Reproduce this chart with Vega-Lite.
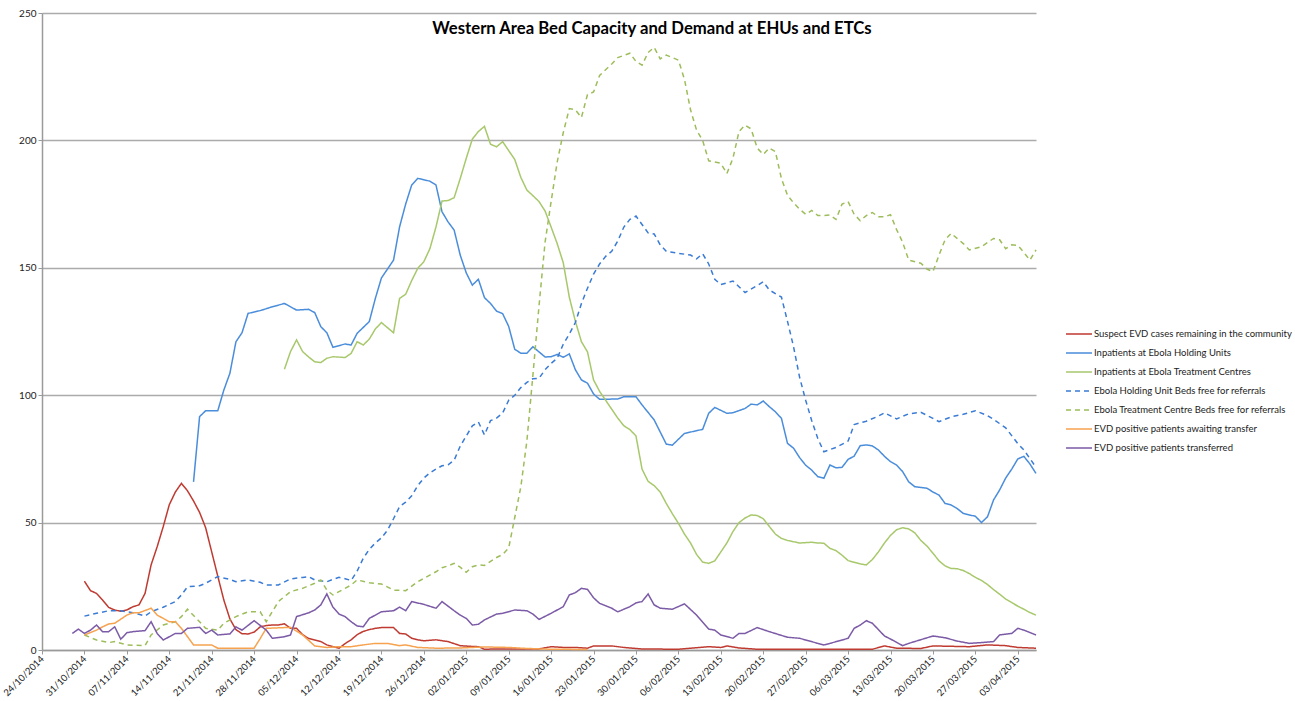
{
  "$schema": "https://vega.github.io/schema/vega-lite/v6.json",
  "width": 994,
  "height": 637,
  "autosize": {"type": "none"},
  "padding": {"left": 42, "top": 13, "right": 259, "bottom": 51},
  "background": "white",
  "title": {"text": "Western Area Bed Capacity and Demand at EHUs and ETCs", "font": "Lato", "fontSize": 16.7, "fontWeight": "bold", "color": "#000000", "anchor": "middle", "frame": "group", "baseline": "alphabetic", "offset": -43, "dx": 113},
  "config": {"view": {"stroke": null}, "font": "Lato"},
  "data": {"values": [
    {"s":"A","t":"2014-10-31","v":27},{"s":"A","t":"2014-11-01","v":23.3},{"s":"A","t":"2014-11-02","v":22.2},{"s":"A","t":"2014-11-03","v":19.6},{"s":"A","t":"2014-11-04","v":16.7},{"s":"A","t":"2014-11-05","v":15.7},{"s":"A","t":"2014-11-06","v":15.2},{"s":"A","t":"2014-11-07","v":15.7},{"s":"A","t":"2014-11-08","v":17},{"s":"A","t":"2014-11-09","v":17.7},{"s":"A","t":"2014-11-10","v":22.2},{"s":"A","t":"2014-11-11","v":33.4},{"s":"A","t":"2014-11-12","v":40.5},{"s":"A","t":"2014-11-13","v":48.4},{"s":"A","t":"2014-11-14","v":57},{"s":"A","t":"2014-11-15","v":62},{"s":"A","t":"2014-11-16","v":65.4},{"s":"A","t":"2014-11-17","v":62.5},{"s":"A","t":"2014-11-18","v":58.5},{"s":"A","t":"2014-11-19","v":54},{"s":"A","t":"2014-11-20","v":48},{"s":"A","t":"2014-11-21","v":38.5},{"s":"A","t":"2014-11-22","v":29},{"s":"A","t":"2014-11-23","v":19.6},{"s":"A","t":"2014-11-24","v":12.2},{"s":"A","t":"2014-11-25","v":8},{"s":"A","t":"2014-11-26","v":6.4},{"s":"A","t":"2014-11-27","v":6.3},{"s":"A","t":"2014-11-28","v":7},{"s":"A","t":"2014-11-29","v":9.1},{"s":"A","t":"2014-11-30","v":9.6},{"s":"A","t":"2014-12-01","v":9.8},{"s":"A","t":"2014-12-02","v":9.8},{"s":"A","t":"2014-12-03","v":10.3},{"s":"A","t":"2014-12-04","v":8.5},{"s":"A","t":"2014-12-05","v":8.5},{"s":"A","t":"2014-12-06","v":6},{"s":"A","t":"2014-12-07","v":4.5},{"s":"A","t":"2014-12-08","v":3.9},{"s":"A","t":"2014-12-09","v":3.3},{"s":"A","t":"2014-12-10","v":2},{"s":"A","t":"2014-12-11","v":1.3},{"s":"A","t":"2014-12-12","v":0.7},{"s":"A","t":"2014-12-13","v":2.5},{"s":"A","t":"2014-12-14","v":4},{"s":"A","t":"2014-12-15","v":6},{"s":"A","t":"2014-12-16","v":7.3},{"s":"A","t":"2014-12-17","v":8},{"s":"A","t":"2014-12-18","v":8.5},{"s":"A","t":"2014-12-19","v":8.8},{"s":"A","t":"2014-12-21","v":8.8},{"s":"A","t":"2014-12-22","v":6.5},{"s":"A","t":"2014-12-23","v":6.3},{"s":"A","t":"2014-12-24","v":4.6},{"s":"A","t":"2014-12-25","v":4},{"s":"A","t":"2014-12-26","v":3.6},{"s":"A","t":"2014-12-28","v":4},{"s":"A","t":"2014-12-30","v":3.3},{"s":"A","t":"2014-12-31","v":2.5},{"s":"A","t":"2015-01-01","v":1.7},{"s":"A","t":"2015-01-03","v":1.4},{"s":"A","t":"2015-01-04","v":1.3},{"s":"A","t":"2015-01-05","v":0.3},{"s":"A","t":"2015-01-07","v":0.4},{"s":"A","t":"2015-01-14","v":0.4},{"s":"A","t":"2015-01-16","v":1.3},{"s":"A","t":"2015-01-18","v":1},{"s":"A","t":"2015-01-20","v":1},{"s":"A","t":"2015-01-22","v":0.7},{"s":"A","t":"2015-01-23","v":1.6},{"s":"A","t":"2015-01-26","v":1.6},{"s":"A","t":"2015-01-28","v":1},{"s":"A","t":"2015-01-31","v":0.4},{"s":"A","t":"2015-02-06","v":0.3},{"s":"A","t":"2015-02-11","v":1.3},{"s":"A","t":"2015-02-13","v":1},{"s":"A","t":"2015-02-14","v":1.6},{"s":"A","t":"2015-02-16","v":0.8},{"s":"A","t":"2015-02-19","v":0.3},{"s":"A","t":"2015-03-10","v":0.3},{"s":"A","t":"2015-03-12","v":1.6},{"s":"A","t":"2015-03-14","v":0.7},{"s":"A","t":"2015-03-18","v":0.6},{"s":"A","t":"2015-03-20","v":1.6},{"s":"A","t":"2015-03-26","v":1.3},{"s":"A","t":"2015-03-29","v":2},{"s":"A","t":"2015-04-01","v":1.7},{"s":"A","t":"2015-04-03","v":1},{"s":"A","t":"2015-04-06","v":0.7},

    {"s":"B","t":"2014-11-18","v":66},{"s":"B","t":"2014-11-19","v":91.6},{"s":"B","t":"2014-11-20","v":93.9},{"s":"B","t":"2014-11-21","v":93.9},{"s":"B","t":"2014-11-22","v":93.9},{"s":"B","t":"2014-11-23","v":102},{"s":"B","t":"2014-11-24","v":108.6},{"s":"B","t":"2014-11-25","v":121},{"s":"B","t":"2014-11-26","v":124.5},{"s":"B","t":"2014-11-27","v":132.1},{"s":"B","t":"2014-11-29","v":133.2},{"s":"B","t":"2014-12-01","v":134.7},{"s":"B","t":"2014-12-03","v":136},{"s":"B","t":"2014-12-05","v":133.4},{"s":"B","t":"2014-12-07","v":133.7},{"s":"B","t":"2014-12-08","v":132.4},{"s":"B","t":"2014-12-09","v":126.9},{"s":"B","t":"2014-12-10","v":124.5},{"s":"B","t":"2014-12-11","v":118.8},{"s":"B","t":"2014-12-13","v":120.1},{"s":"B","t":"2014-12-14","v":119.7},{"s":"B","t":"2014-12-15","v":124.3},{"s":"B","t":"2014-12-17","v":128.9},{"s":"B","t":"2014-12-18","v":138},{"s":"B","t":"2014-12-19","v":146},{"s":"B","t":"2014-12-21","v":153},{"s":"B","t":"2014-12-22","v":166.1},{"s":"B","t":"2014-12-23","v":175},{"s":"B","t":"2014-12-24","v":182.5},{"s":"B","t":"2014-12-25","v":185.1},{"s":"B","t":"2014-12-27","v":184},{"s":"B","t":"2014-12-28","v":182.5},{"s":"B","t":"2014-12-29","v":172},{"s":"B","t":"2014-12-30","v":168},{"s":"B","t":"2014-12-31","v":164.8},{"s":"B","t":"2015-01-01","v":155},{"s":"B","t":"2015-01-02","v":148},{"s":"B","t":"2015-01-03","v":143.2},{"s":"B","t":"2015-01-04","v":145.5},{"s":"B","t":"2015-01-05","v":138.3},{"s":"B","t":"2015-01-06","v":136},{"s":"B","t":"2015-01-07","v":133},{"s":"B","t":"2015-01-08","v":132},{"s":"B","t":"2015-01-09","v":127},{"s":"B","t":"2015-01-10","v":118},{"s":"B","t":"2015-01-11","v":116.5},{"s":"B","t":"2015-01-12","v":116.5},{"s":"B","t":"2015-01-13","v":119},{"s":"B","t":"2015-01-14","v":117},{"s":"B","t":"2015-01-15","v":115},{"s":"B","t":"2015-01-16","v":115.1},{"s":"B","t":"2015-01-17","v":116},{"s":"B","t":"2015-01-18","v":114.9},{"s":"B","t":"2015-01-19","v":116.2},{"s":"B","t":"2015-01-20","v":110},{"s":"B","t":"2015-01-21","v":106},{"s":"B","t":"2015-01-22","v":104.7},{"s":"B","t":"2015-01-23","v":100.5},{"s":"B","t":"2015-01-24","v":98.4},{"s":"B","t":"2015-01-27","v":98.5},{"s":"B","t":"2015-01-28","v":99.4},{"s":"B","t":"2015-01-30","v":99.4},{"s":"B","t":"2015-01-31","v":96.2},{"s":"B","t":"2015-02-02","v":90.3},{"s":"B","t":"2015-02-04","v":80.8},{"s":"B","t":"2015-02-05","v":80.4},{"s":"B","t":"2015-02-07","v":85},{"s":"B","t":"2015-02-10","v":86.6},{"s":"B","t":"2015-02-11","v":92.9},{"s":"B","t":"2015-02-12","v":95.2},{"s":"B","t":"2015-02-14","v":92.9},{"s":"B","t":"2015-02-15","v":93.1},{"s":"B","t":"2015-02-17","v":94.8},{"s":"B","t":"2015-02-18","v":96.5},{"s":"B","t":"2015-02-19","v":96.2},{"s":"B","t":"2015-02-20","v":97.7},{"s":"B","t":"2015-02-21","v":95.5},{"s":"B","t":"2015-02-22","v":93.5},{"s":"B","t":"2015-02-23","v":90.9},{"s":"B","t":"2015-02-24","v":81.1},{"s":"B","t":"2015-02-25","v":79.2},{"s":"B","t":"2015-02-26","v":75.5},{"s":"B","t":"2015-02-27","v":72.5},{"s":"B","t":"2015-02-28","v":70.6},{"s":"B","t":"2015-03-01","v":68},{"s":"B","t":"2015-03-02","v":67.4},{"s":"B","t":"2015-03-03","v":72.6},{"s":"B","t":"2015-03-04","v":71.5},{"s":"B","t":"2015-03-05","v":71.7},{"s":"B","t":"2015-03-06","v":74.8},{"s":"B","t":"2015-03-07","v":76.1},{"s":"B","t":"2015-03-08","v":80.2},{"s":"B","t":"2015-03-09","v":80.5},{"s":"B","t":"2015-03-10","v":80.1},{"s":"B","t":"2015-03-11","v":78.5},{"s":"B","t":"2015-03-12","v":76},{"s":"B","t":"2015-03-13","v":73.9},{"s":"B","t":"2015-03-14","v":72.6},{"s":"B","t":"2015-03-15","v":70},{"s":"B","t":"2015-03-16","v":66},{"s":"B","t":"2015-03-17","v":64.1},{"s":"B","t":"2015-03-18","v":63.8},{"s":"B","t":"2015-03-19","v":63.5},{"s":"B","t":"2015-03-20","v":62},{"s":"B","t":"2015-03-21","v":60.8},{"s":"B","t":"2015-03-22","v":57.5},{"s":"B","t":"2015-03-23","v":56.9},{"s":"B","t":"2015-03-24","v":55.5},{"s":"B","t":"2015-03-25","v":53.6},{"s":"B","t":"2015-03-26","v":53},{"s":"B","t":"2015-03-27","v":52.5},{"s":"B","t":"2015-03-28","v":50},{"s":"B","t":"2015-03-29","v":52.3},{"s":"B","t":"2015-03-30","v":58.9},{"s":"B","t":"2015-03-31","v":62.8},{"s":"B","t":"2015-04-01","v":67.5},{"s":"B","t":"2015-04-02","v":71},{"s":"B","t":"2015-04-03","v":75},{"s":"B","t":"2015-04-04","v":76},{"s":"B","t":"2015-04-05","v":73},{"s":"B","t":"2015-04-06","v":69.3},

    {"s":"C","t":"2014-12-03","v":110.2},{"s":"C","t":"2014-12-04","v":117.1},{"s":"C","t":"2014-12-05","v":121.7},{"s":"C","t":"2014-12-06","v":117.1},{"s":"C","t":"2014-12-07","v":115},{"s":"C","t":"2014-12-08","v":113.1},{"s":"C","t":"2014-12-09","v":112.8},{"s":"C","t":"2014-12-10","v":114.5},{"s":"C","t":"2014-12-11","v":115.1},{"s":"C","t":"2014-12-13","v":114.8},{"s":"C","t":"2014-12-14","v":116.4},{"s":"C","t":"2014-12-15","v":121},{"s":"C","t":"2014-12-16","v":119.7},{"s":"C","t":"2014-12-17","v":122},{"s":"C","t":"2014-12-18","v":126},{"s":"C","t":"2014-12-19","v":128.5},{"s":"C","t":"2014-12-20","v":126.5},{"s":"C","t":"2014-12-21","v":124.5},{"s":"C","t":"2014-12-22","v":138},{"s":"C","t":"2014-12-23","v":139.6},{"s":"C","t":"2014-12-24","v":145},{"s":"C","t":"2014-12-25","v":149.8},{"s":"C","t":"2014-12-26","v":152.4},{"s":"C","t":"2014-12-27","v":157.5},{"s":"C","t":"2014-12-28","v":166},{"s":"C","t":"2014-12-29","v":176.2},{"s":"C","t":"2014-12-30","v":176.4},{"s":"C","t":"2014-12-31","v":177.5},{"s":"C","t":"2015-01-01","v":185},{"s":"C","t":"2015-01-02","v":193},{"s":"C","t":"2015-01-03","v":200.5},{"s":"C","t":"2015-01-04","v":203.5},{"s":"C","t":"2015-01-05","v":205.5},{"s":"C","t":"2015-01-06","v":198.5},{"s":"C","t":"2015-01-07","v":197.5},{"s":"C","t":"2015-01-08","v":199.5},{"s":"C","t":"2015-01-09","v":196},{"s":"C","t":"2015-01-10","v":192.5},{"s":"C","t":"2015-01-11","v":185.5},{"s":"C","t":"2015-01-12","v":180.5},{"s":"C","t":"2015-01-13","v":178.3},{"s":"C","t":"2015-01-14","v":176},{"s":"C","t":"2015-01-15","v":172.3},{"s":"C","t":"2015-01-16","v":166},{"s":"C","t":"2015-01-17","v":159.5},{"s":"C","t":"2015-01-18","v":152},{"s":"C","t":"2015-01-19","v":138.5},{"s":"C","t":"2015-01-20","v":129},{"s":"C","t":"2015-01-21","v":121},{"s":"C","t":"2015-01-22","v":117},{"s":"C","t":"2015-01-23","v":106},{"s":"C","t":"2015-01-24","v":101.5},{"s":"C","t":"2015-01-25","v":98},{"s":"C","t":"2015-01-26","v":94.5},{"s":"C","t":"2015-01-27","v":91},{"s":"C","t":"2015-01-28","v":88},{"s":"C","t":"2015-01-29","v":86.5},{"s":"C","t":"2015-01-30","v":84},{"s":"C","t":"2015-01-31","v":71},{"s":"C","t":"2015-02-01","v":66.2},{"s":"C","t":"2015-02-02","v":64.5},{"s":"C","t":"2015-02-03","v":62},{"s":"C","t":"2015-02-04","v":57.5},{"s":"C","t":"2015-02-05","v":53.5},{"s":"C","t":"2015-02-06","v":49.7},{"s":"C","t":"2015-02-07","v":45.5},{"s":"C","t":"2015-02-08","v":42},{"s":"C","t":"2015-02-09","v":37.5},{"s":"C","t":"2015-02-10","v":34.5},{"s":"C","t":"2015-02-11","v":34},{"s":"C","t":"2015-02-12","v":35},{"s":"C","t":"2015-02-13","v":38.5},{"s":"C","t":"2015-02-14","v":42},{"s":"C","t":"2015-02-15","v":46.5},{"s":"C","t":"2015-02-16","v":50},{"s":"C","t":"2015-02-17","v":51.8},{"s":"C","t":"2015-02-18","v":53},{"s":"C","t":"2015-02-19","v":52.8},{"s":"C","t":"2015-02-20","v":51.5},{"s":"C","t":"2015-02-21","v":48.5},{"s":"C","t":"2015-02-22","v":45.5},{"s":"C","t":"2015-02-23","v":43.8},{"s":"C","t":"2015-02-24","v":43},{"s":"C","t":"2015-02-26","v":42},{"s":"C","t":"2015-02-28","v":42.3},{"s":"C","t":"2015-03-01","v":42},{"s":"C","t":"2015-03-02","v":41.9},{"s":"C","t":"2015-03-03","v":39.9},{"s":"C","t":"2015-03-04","v":39},{"s":"C","t":"2015-03-05","v":37.2},{"s":"C","t":"2015-03-06","v":35.1},{"s":"C","t":"2015-03-07","v":34.4},{"s":"C","t":"2015-03-08","v":33.8},{"s":"C","t":"2015-03-09","v":33.4},{"s":"C","t":"2015-03-10","v":35.5},{"s":"C","t":"2015-03-11","v":38.5},{"s":"C","t":"2015-03-12","v":42},{"s":"C","t":"2015-03-13","v":45},{"s":"C","t":"2015-03-14","v":47.2},{"s":"C","t":"2015-03-15","v":48},{"s":"C","t":"2015-03-16","v":47.5},{"s":"C","t":"2015-03-17","v":46},{"s":"C","t":"2015-03-18","v":43},{"s":"C","t":"2015-03-19","v":40.8},{"s":"C","t":"2015-03-20","v":38},{"s":"C","t":"2015-03-21","v":35},{"s":"C","t":"2015-03-22","v":33},{"s":"C","t":"2015-03-23","v":32},{"s":"C","t":"2015-03-24","v":31.9},{"s":"C","t":"2015-03-25","v":31.2},{"s":"C","t":"2015-03-26","v":30},{"s":"C","t":"2015-03-27","v":28.5},{"s":"C","t":"2015-03-28","v":27.3},{"s":"C","t":"2015-03-29","v":25.7},{"s":"C","t":"2015-03-30","v":23.7},{"s":"C","t":"2015-03-31","v":21.9},{"s":"C","t":"2015-04-01","v":20},{"s":"C","t":"2015-04-02","v":18.6},{"s":"C","t":"2015-04-03","v":17.2},{"s":"C","t":"2015-04-04","v":16},{"s":"C","t":"2015-04-05","v":14.7},{"s":"C","t":"2015-04-06","v":13.7},

    {"s":"D","t":"2014-10-31","v":13.3},{"s":"D","t":"2014-11-02","v":14.4},{"s":"D","t":"2014-11-04","v":15.4},{"s":"D","t":"2014-11-06","v":15.4},{"s":"D","t":"2014-11-08","v":14.6},{"s":"D","t":"2014-11-09","v":14},{"s":"D","t":"2014-11-10","v":13.3},{"s":"D","t":"2014-11-11","v":15},{"s":"D","t":"2014-11-13","v":16.8},{"s":"D","t":"2014-11-15","v":19},{"s":"D","t":"2014-11-16","v":21.6},{"s":"D","t":"2014-11-17","v":24.8},{"s":"D","t":"2014-11-19","v":25.2},{"s":"D","t":"2014-11-20","v":26.2},{"s":"D","t":"2014-11-22","v":28.8},{"s":"D","t":"2014-11-24","v":27.7},{"s":"D","t":"2014-11-25","v":26.8},{"s":"D","t":"2014-11-27","v":27.5},{"s":"D","t":"2014-11-29","v":26.6},{"s":"D","t":"2014-11-30","v":25.5},{"s":"D","t":"2014-12-02","v":25.5},{"s":"D","t":"2014-12-04","v":27.9},{"s":"D","t":"2014-12-06","v":28.5},{"s":"D","t":"2014-12-07","v":28.8},{"s":"D","t":"2014-12-08","v":27.5},{"s":"D","t":"2014-12-10","v":26.8},{"s":"D","t":"2014-12-11","v":27.7},{"s":"D","t":"2014-12-12","v":28.5},{"s":"D","t":"2014-12-13","v":28},{"s":"D","t":"2014-12-14","v":27.3},{"s":"D","t":"2014-12-15","v":31},{"s":"D","t":"2014-12-16","v":36},{"s":"D","t":"2014-12-17","v":39.5},{"s":"D","t":"2014-12-18","v":42},{"s":"D","t":"2014-12-19","v":44},{"s":"D","t":"2014-12-20","v":47},{"s":"D","t":"2014-12-21","v":51.5},{"s":"D","t":"2014-12-22","v":56.3},{"s":"D","t":"2014-12-23","v":58},{"s":"D","t":"2014-12-24","v":60.5},{"s":"D","t":"2014-12-25","v":64.5},{"s":"D","t":"2014-12-26","v":67.5},{"s":"D","t":"2014-12-27","v":69.5},{"s":"D","t":"2014-12-28","v":71},{"s":"D","t":"2014-12-29","v":72.3},{"s":"D","t":"2014-12-30","v":72.7},{"s":"D","t":"2014-12-31","v":74.5},{"s":"D","t":"2015-01-01","v":80},{"s":"D","t":"2015-01-02","v":84},{"s":"D","t":"2015-01-03","v":88},{"s":"D","t":"2015-01-04","v":89.5},{"s":"D","t":"2015-01-05","v":84.4},{"s":"D","t":"2015-01-06","v":90},{"s":"D","t":"2015-01-07","v":91},{"s":"D","t":"2015-01-08","v":93},{"s":"D","t":"2015-01-09","v":98},{"s":"D","t":"2015-01-10","v":100},{"s":"D","t":"2015-01-11","v":103},{"s":"D","t":"2015-01-12","v":105},{"s":"D","t":"2015-01-13","v":106.5},{"s":"D","t":"2015-01-14","v":106.6},{"s":"D","t":"2015-01-15","v":110},{"s":"D","t":"2015-01-16","v":112.5},{"s":"D","t":"2015-01-17","v":114.5},{"s":"D","t":"2015-01-18","v":120},{"s":"D","t":"2015-01-19","v":124},{"s":"D","t":"2015-01-20","v":128.5},{"s":"D","t":"2015-01-21","v":136},{"s":"D","t":"2015-01-22","v":142},{"s":"D","t":"2015-01-23","v":147.5},{"s":"D","t":"2015-01-24","v":151.5},{"s":"D","t":"2015-01-25","v":154.5},{"s":"D","t":"2015-01-26","v":156.5},{"s":"D","t":"2015-01-27","v":160.5},{"s":"D","t":"2015-01-28","v":166},{"s":"D","t":"2015-01-29","v":169},{"s":"D","t":"2015-01-30","v":170.3},{"s":"D","t":"2015-01-31","v":167},{"s":"D","t":"2015-02-01","v":163.7},{"s":"D","t":"2015-02-02","v":163.3},{"s":"D","t":"2015-02-03","v":159},{"s":"D","t":"2015-02-04","v":156.5},{"s":"D","t":"2015-02-06","v":155.7},{"s":"D","t":"2015-02-08","v":155},{"s":"D","t":"2015-02-09","v":153.5},{"s":"D","t":"2015-02-10","v":155.5},{"s":"D","t":"2015-02-11","v":151.5},{"s":"D","t":"2015-02-12","v":145.5},{"s":"D","t":"2015-02-13","v":143.4},{"s":"D","t":"2015-02-15","v":144.8},{"s":"D","t":"2015-02-17","v":140.3},{"s":"D","t":"2015-02-19","v":143},{"s":"D","t":"2015-02-20","v":144.5},{"s":"D","t":"2015-02-21","v":141.3},{"s":"D","t":"2015-02-23","v":138.5},{"s":"D","t":"2015-02-24","v":129},{"s":"D","t":"2015-02-25","v":119},{"s":"D","t":"2015-02-26","v":107},{"s":"D","t":"2015-02-27","v":98},{"s":"D","t":"2015-02-28","v":90},{"s":"D","t":"2015-03-01","v":83},{"s":"D","t":"2015-03-02","v":77.8},{"s":"D","t":"2015-03-04","v":79.5},{"s":"D","t":"2015-03-06","v":82},{"s":"D","t":"2015-03-07","v":88.5},{"s":"D","t":"2015-03-09","v":89.8},{"s":"D","t":"2015-03-11","v":91.8},{"s":"D","t":"2015-03-12","v":93.1},{"s":"D","t":"2015-03-14","v":90.7},{"s":"D","t":"2015-03-16","v":92.7},{"s":"D","t":"2015-03-18","v":93.3},{"s":"D","t":"2015-03-20","v":90.9},{"s":"D","t":"2015-03-21","v":89.6},{"s":"D","t":"2015-03-23","v":91.5},{"s":"D","t":"2015-03-25","v":92.5},{"s":"D","t":"2015-03-27","v":93.9},{"s":"D","t":"2015-03-29","v":92},{"s":"D","t":"2015-03-30","v":90.5},{"s":"D","t":"2015-04-01","v":87.2},{"s":"D","t":"2015-04-03","v":81},{"s":"D","t":"2015-04-04","v":78.5},{"s":"D","t":"2015-04-06","v":71.7},

    {"s":"E","t":"2014-10-31","v":5.9},{"s":"E","t":"2014-11-02","v":3.9},{"s":"E","t":"2014-11-04","v":2.9},{"s":"E","t":"2014-11-05","v":3.3},{"s":"E","t":"2014-11-07","v":2},{"s":"E","t":"2014-11-10","v":1.7},{"s":"E","t":"2014-11-11","v":5.9},{"s":"E","t":"2014-11-13","v":9.8},{"s":"E","t":"2014-11-15","v":11.1},{"s":"E","t":"2014-11-16","v":13.1},{"s":"E","t":"2014-11-17","v":16},{"s":"E","t":"2014-11-19","v":11.1},{"s":"E","t":"2014-11-20","v":8.5},{"s":"E","t":"2014-11-22","v":7.8},{"s":"E","t":"2014-11-23","v":10.5},{"s":"E","t":"2014-11-25","v":13.1},{"s":"E","t":"2014-11-27","v":15},{"s":"E","t":"2014-11-29","v":15},{"s":"E","t":"2014-11-30","v":11.1},{"s":"E","t":"2014-12-02","v":19},{"s":"E","t":"2014-12-04","v":22.9},{"s":"E","t":"2014-12-06","v":24.2},{"s":"E","t":"2014-12-08","v":26.2},{"s":"E","t":"2014-12-09","v":27.5},{"s":"E","t":"2014-12-10","v":23.5},{"s":"E","t":"2014-12-11","v":21.6},{"s":"E","t":"2014-12-13","v":24.2},{"s":"E","t":"2014-12-14","v":25.5},{"s":"E","t":"2014-12-15","v":27.5},{"s":"E","t":"2014-12-17","v":26.4},{"s":"E","t":"2014-12-19","v":25.9},{"s":"E","t":"2014-12-21","v":23.5},{"s":"E","t":"2014-12-23","v":23.3},{"s":"E","t":"2014-12-25","v":26.8},{"s":"E","t":"2014-12-26","v":28.1},{"s":"E","t":"2014-12-28","v":30.7},{"s":"E","t":"2014-12-29","v":32.3},{"s":"E","t":"2014-12-30","v":33},{"s":"E","t":"2014-12-31","v":34},{"s":"E","t":"2015-01-01","v":32.5},{"s":"E","t":"2015-01-02","v":30.5},{"s":"E","t":"2015-01-03","v":32.7},{"s":"E","t":"2015-01-04","v":33.4},{"s":"E","t":"2015-01-05","v":33.2},{"s":"E","t":"2015-01-07","v":36.3},{"s":"E","t":"2015-01-08","v":37.5},{"s":"E","t":"2015-01-09","v":40},{"s":"E","t":"2015-01-10","v":52},{"s":"E","t":"2015-01-11","v":64},{"s":"E","t":"2015-01-12","v":82},{"s":"E","t":"2015-01-13","v":108},{"s":"E","t":"2015-01-14","v":135},{"s":"E","t":"2015-01-15","v":160},{"s":"E","t":"2015-01-16","v":176},{"s":"E","t":"2015-01-17","v":191.5},{"s":"E","t":"2015-01-18","v":203},{"s":"E","t":"2015-01-19","v":212.5},{"s":"E","t":"2015-01-20","v":212},{"s":"E","t":"2015-01-21","v":209},{"s":"E","t":"2015-01-22","v":218},{"s":"E","t":"2015-01-23","v":219},{"s":"E","t":"2015-01-24","v":225.5},{"s":"E","t":"2015-01-26","v":230},{"s":"E","t":"2015-01-27","v":232.5},{"s":"E","t":"2015-01-29","v":234.2},{"s":"E","t":"2015-01-30","v":231},{"s":"E","t":"2015-01-31","v":229.5},{"s":"E","t":"2015-02-01","v":234.5},{"s":"E","t":"2015-02-02","v":236.5},{"s":"E","t":"2015-02-03","v":232},{"s":"E","t":"2015-02-04","v":233.5},{"s":"E","t":"2015-02-06","v":231.5},{"s":"E","t":"2015-02-07","v":224},{"s":"E","t":"2015-02-08","v":212},{"s":"E","t":"2015-02-09","v":204},{"s":"E","t":"2015-02-10","v":200},{"s":"E","t":"2015-02-11","v":192},{"s":"E","t":"2015-02-12","v":191.5},{"s":"E","t":"2015-02-13","v":191},{"s":"E","t":"2015-02-14","v":187},{"s":"E","t":"2015-02-15","v":193},{"s":"E","t":"2015-02-16","v":203.5},{"s":"E","t":"2015-02-17","v":206},{"s":"E","t":"2015-02-18","v":204.5},{"s":"E","t":"2015-02-19","v":197},{"s":"E","t":"2015-02-20","v":194.5},{"s":"E","t":"2015-02-21","v":197},{"s":"E","t":"2015-02-22","v":195.6},{"s":"E","t":"2015-02-23","v":185},{"s":"E","t":"2015-02-24","v":178.5},{"s":"E","t":"2015-02-25","v":175.5},{"s":"E","t":"2015-02-26","v":173},{"s":"E","t":"2015-02-27","v":171},{"s":"E","t":"2015-02-28","v":172.5},{"s":"E","t":"2015-03-01","v":170.5},{"s":"E","t":"2015-03-02","v":170.5},{"s":"E","t":"2015-03-03","v":170.7},{"s":"E","t":"2015-03-04","v":169},{"s":"E","t":"2015-03-05","v":175},{"s":"E","t":"2015-03-06","v":176},{"s":"E","t":"2015-03-07","v":171},{"s":"E","t":"2015-03-08","v":168.5},{"s":"E","t":"2015-03-09","v":170.5},{"s":"E","t":"2015-03-10","v":171.7},{"s":"E","t":"2015-03-11","v":170},{"s":"E","t":"2015-03-12","v":170},{"s":"E","t":"2015-03-13","v":170.8},{"s":"E","t":"2015-03-14","v":165},{"s":"E","t":"2015-03-15","v":160},{"s":"E","t":"2015-03-16","v":153},{"s":"E","t":"2015-03-18","v":151.8},{"s":"E","t":"2015-03-19","v":149.5},{"s":"E","t":"2015-03-20","v":148.5},{"s":"E","t":"2015-03-21","v":155},{"s":"E","t":"2015-03-22","v":161},{"s":"E","t":"2015-03-23","v":163.5},{"s":"E","t":"2015-03-25","v":159.5},{"s":"E","t":"2015-03-26","v":157},{"s":"E","t":"2015-03-28","v":158.3},{"s":"E","t":"2015-03-30","v":161.5},{"s":"E","t":"2015-03-31","v":161},{"s":"E","t":"2015-04-01","v":157.5},{"s":"E","t":"2015-04-02","v":159},{"s":"E","t":"2015-04-03","v":158.8},{"s":"E","t":"2015-04-04","v":156},{"s":"E","t":"2015-04-05","v":153},{"s":"E","t":"2015-04-06","v":157},

    {"s":"F","t":"2014-10-31","v":5.9},{"s":"F","t":"2014-11-02","v":7.8},{"s":"F","t":"2014-11-03","v":9.1},{"s":"F","t":"2014-11-04","v":10.2},{"s":"F","t":"2014-11-05","v":10.5},{"s":"F","t":"2014-11-07","v":13.7},{"s":"F","t":"2014-11-08","v":14.6},{"s":"F","t":"2014-11-09","v":14.6},{"s":"F","t":"2014-11-11","v":16.4},{"s":"F","t":"2014-11-12","v":13.7},{"s":"F","t":"2014-11-14","v":11.1},{"s":"F","t":"2014-11-15","v":11.1},{"s":"F","t":"2014-11-16","v":8.5},{"s":"F","t":"2014-11-18","v":2},{"s":"F","t":"2014-11-21","v":2},{"s":"F","t":"2014-11-22","v":0.7},{"s":"F","t":"2014-11-28","v":0.7},{"s":"F","t":"2014-11-29","v":4.5},{"s":"F","t":"2014-11-30","v":8.5},{"s":"F","t":"2014-12-04","v":8.9},{"s":"F","t":"2014-12-06","v":5.9},{"s":"F","t":"2014-12-08","v":1.6},{"s":"F","t":"2014-12-10","v":1},{"s":"F","t":"2014-12-12","v":1.3},{"s":"F","t":"2014-12-14","v":1.3},{"s":"F","t":"2014-12-16","v":2},{"s":"F","t":"2014-12-18","v":2.6},{"s":"F","t":"2014-12-20","v":2.6},{"s":"F","t":"2014-12-22","v":1.7},{"s":"F","t":"2014-12-23","v":2},{"s":"F","t":"2014-12-25","v":1},{"s":"F","t":"2014-12-28","v":0.7},{"s":"F","t":"2015-01-01","v":0.8},{"s":"F","t":"2015-01-05","v":1.2},{"s":"F","t":"2015-01-09","v":1},{"s":"F","t":"2015-01-12","v":0.6},{"s":"F","t":"2015-01-16","v":0.3},{"s":"F","t":"2015-01-22","v":0.2},

    {"s":"G","t":"2014-10-29","v":6.5},{"s":"G","t":"2014-10-30","v":8.2},{"s":"G","t":"2014-10-31","v":6.5},{"s":"G","t":"2014-11-01","v":7.8},{"s":"G","t":"2014-11-02","v":9.8},{"s":"G","t":"2014-11-03","v":7.2},{"s":"G","t":"2014-11-04","v":7.2},{"s":"G","t":"2014-11-05","v":9.1},{"s":"G","t":"2014-11-06","v":4.2},{"s":"G","t":"2014-11-07","v":6.8},{"s":"G","t":"2014-11-08","v":7.2},{"s":"G","t":"2014-11-10","v":7.6},{"s":"G","t":"2014-11-11","v":11.1},{"s":"G","t":"2014-11-12","v":6.5},{"s":"G","t":"2014-11-13","v":3.9},{"s":"G","t":"2014-11-15","v":6.5},{"s":"G","t":"2014-11-16","v":6.5},{"s":"G","t":"2014-11-17","v":8.5},{"s":"G","t":"2014-11-19","v":8.9},{"s":"G","t":"2014-11-20","v":6.5},{"s":"G","t":"2014-11-21","v":7.8},{"s":"G","t":"2014-11-22","v":5.9},{"s":"G","t":"2014-11-24","v":6.3},{"s":"G","t":"2014-11-25","v":9.1},{"s":"G","t":"2014-11-26","v":7.8},{"s":"G","t":"2014-11-28","v":11.5},{"s":"G","t":"2014-11-30","v":7.8},{"s":"G","t":"2014-12-01","v":4.6},{"s":"G","t":"2014-12-03","v":5.2},{"s":"G","t":"2014-12-04","v":5.9},{"s":"G","t":"2014-12-05","v":13.1},{"s":"G","t":"2014-12-07","v":14.6},{"s":"G","t":"2014-12-08","v":15.7},{"s":"G","t":"2014-12-09","v":17.7},{"s":"G","t":"2014-12-10","v":22},{"s":"G","t":"2014-12-11","v":16.8},{"s":"G","t":"2014-12-12","v":14.1},{"s":"G","t":"2014-12-13","v":13.1},{"s":"G","t":"2014-12-14","v":11.1},{"s":"G","t":"2014-12-15","v":9.4},{"s":"G","t":"2014-12-16","v":9.1},{"s":"G","t":"2014-12-17","v":12.4},{"s":"G","t":"2014-12-19","v":15},{"s":"G","t":"2014-12-21","v":15.4},{"s":"G","t":"2014-12-22","v":16.8},{"s":"G","t":"2014-12-23","v":15.4},{"s":"G","t":"2014-12-24","v":19},{"s":"G","t":"2014-12-26","v":17.9},{"s":"G","t":"2014-12-28","v":16.4},{"s":"G","t":"2014-12-29","v":19},{"s":"G","t":"2014-12-31","v":15.4},{"s":"G","t":"2015-01-01","v":13.7},{"s":"G","t":"2015-01-02","v":12.4},{"s":"G","t":"2015-01-03","v":9.8},{"s":"G","t":"2015-01-04","v":10.1},{"s":"G","t":"2015-01-05","v":11.8},{"s":"G","t":"2015-01-07","v":14.1},{"s":"G","t":"2015-01-08","v":14.4},{"s":"G","t":"2015-01-10","v":15.7},{"s":"G","t":"2015-01-12","v":15.4},{"s":"G","t":"2015-01-13","v":14.1},{"s":"G","t":"2015-01-14","v":12},{"s":"G","t":"2015-01-16","v":14.4},{"s":"G","t":"2015-01-18","v":17},{"s":"G","t":"2015-01-19","v":21.6},{"s":"G","t":"2015-01-20","v":22.5},{"s":"G","t":"2015-01-21","v":24.2},{"s":"G","t":"2015-01-22","v":23.8},{"s":"G","t":"2015-01-23","v":20.5},{"s":"G","t":"2015-01-24","v":18.3},{"s":"G","t":"2015-01-26","v":16.4},{"s":"G","t":"2015-01-27","v":15},{"s":"G","t":"2015-01-29","v":17},{"s":"G","t":"2015-01-30","v":18.5},{"s":"G","t":"2015-01-31","v":19},{"s":"G","t":"2015-02-01","v":22},{"s":"G","t":"2015-02-02","v":17.7},{"s":"G","t":"2015-02-03","v":16.4},{"s":"G","t":"2015-02-05","v":16},{"s":"G","t":"2015-02-07","v":18.1},{"s":"G","t":"2015-02-09","v":13.7},{"s":"G","t":"2015-02-11","v":8.2},{"s":"G","t":"2015-02-12","v":7.8},{"s":"G","t":"2015-02-13","v":5.9},{"s":"G","t":"2015-02-15","v":4.6},{"s":"G","t":"2015-02-16","v":6.5},{"s":"G","t":"2015-02-17","v":6.5},{"s":"G","t":"2015-02-19","v":8.8},{"s":"G","t":"2015-02-21","v":7.2},{"s":"G","t":"2015-02-24","v":5},{"s":"G","t":"2015-02-26","v":4.6},{"s":"G","t":"2015-03-01","v":2.6},{"s":"G","t":"2015-03-02","v":2},{"s":"G","t":"2015-03-03","v":2.6},{"s":"G","t":"2015-03-05","v":3.9},{"s":"G","t":"2015-03-06","v":4.6},{"s":"G","t":"2015-03-07","v":8.5},{"s":"G","t":"2015-03-08","v":9.8},{"s":"G","t":"2015-03-09","v":11.5},{"s":"G","t":"2015-03-10","v":10.5},{"s":"G","t":"2015-03-12","v":5.5},{"s":"G","t":"2015-03-13","v":4.3},{"s":"G","t":"2015-03-15","v":1.7},{"s":"G","t":"2015-03-16","v":2.6},{"s":"G","t":"2015-03-20","v":5.5},{"s":"G","t":"2015-03-22","v":4.8},{"s":"G","t":"2015-03-24","v":3.5},{"s":"G","t":"2015-03-26","v":2.6},{"s":"G","t":"2015-03-28","v":2.9},{"s":"G","t":"2015-03-30","v":3.3},{"s":"G","t":"2015-03-31","v":5.9},{"s":"G","t":"2015-04-02","v":6.5},{"s":"G","t":"2015-04-03","v":8.5},{"s":"G","t":"2015-04-04","v":7.8},{"s":"G","t":"2015-04-06","v":5.9}
  ]},
  "mark": {"type": "line", "interpolate": "linear"},
  "encoding": {
    "x": {
      "field": "t", "type": "temporal",
      "scale": {"type": "utc", "domain": [{"year": 2014, "month": 10, "date": 24, "utc": true}, {"year": 2015, "month": 4, "date": 6, "utc": true}]},
      "axis": {
        "title": null, "grid": false,
        "labelExpr": "utcFormat(datum.value, '%d/%m/%Y')",
        "values": [
          {"year":2014,"month":10,"date":24,"utc":true},{"year":2014,"month":10,"date":31,"utc":true},{"year":2014,"month":11,"date":7,"utc":true},{"year":2014,"month":11,"date":14,"utc":true},{"year":2014,"month":11,"date":21,"utc":true},{"year":2014,"month":11,"date":28,"utc":true},{"year":2014,"month":12,"date":5,"utc":true},{"year":2014,"month":12,"date":12,"utc":true},{"year":2014,"month":12,"date":19,"utc":true},{"year":2014,"month":12,"date":26,"utc":true},{"year":2015,"month":1,"date":2,"utc":true},{"year":2015,"month":1,"date":9,"utc":true},{"year":2015,"month":1,"date":16,"utc":true},{"year":2015,"month":1,"date":23,"utc":true},{"year":2015,"month":1,"date":30,"utc":true},{"year":2015,"month":2,"date":6,"utc":true},{"year":2015,"month":2,"date":13,"utc":true},{"year":2015,"month":2,"date":20,"utc":true},{"year":2015,"month":2,"date":27,"utc":true},{"year":2015,"month":3,"date":6,"utc":true},{"year":2015,"month":3,"date":13,"utc":true},{"year":2015,"month":3,"date":20,"utc":true},{"year":2015,"month":3,"date":27,"utc":true},{"year":2015,"month":4,"date":3,"utc":true}
        ],
        "labelAngle": -45, "labelAlign": "right", "labelBaseline": "middle", "labelFontSize": 9.5, "labelColor": "#222222", "labelPadding": 3, "labelFlush": false, "labelOverlap": false,
        "domainColor": "#9a9a9a", "domainWidth": 1.5, "tickColor": "#9a9a9a", "tickSize": 4, "tickWidth": 1
      }
    },
    "y": {
      "field": "v", "type": "quantitative",
      "scale": {"domain": [0, 250], "nice": false, "zero": true},
      "axis": {
        "title": null, "values": [0, 50, 100, 150, 200, 250],
        "labelFontSize": 10, "labelColor": "#222222", "labelPadding": 2,
        "gridColor": "#ababab", "gridWidth": 1.5,
        "domainColor": "#9a9a9a", "domainWidth": 1.5, "tickColor": "#9a9a9a", "tickSize": 4
      }
    },
    "color": {
      "field": "s", "type": "nominal",
      "scale": {"domain": ["A","B","C","D","E","F","G"], "range": ["#bf3a30","#4a8ddb","#a8c86c","#3a7bd5","#9dbd5a","#f6a24f","#7b5aa6"]},
      "legend": {
        "title": null, "orient": "none", "legendX": 1023, "legendY": 307, "padding": 0,
        "symbolType": "stroke", "symbolSize": 676, "symbolStrokeWidth": 2, "rowPadding": -6.7,
        "labelFontSize": 9.5, "labelColor": "#222222", "labelOffset": 1, "labelLimit": 400,
        "labelExpr": "datum.label == 'A' ? 'Suspect EVD cases remaining in the community' : datum.label == 'B' ? 'Inpatients at Ebola Holding Units' : datum.label == 'C' ? 'Inpatients at Ebola Treatment Centres' : datum.label == 'D' ? 'Ebola Holding Unit Beds free for referrals' : datum.label == 'E' ? 'Ebola Treatment Centre Beds free for referrals' : datum.label == 'F' ? 'EVD positive patients awaiting transfer' : 'EVD positive patients transferred'"
      }
    },
    "strokeDash": {
      "field": "s", "type": "nominal",
      "scale": {"domain": ["A","B","C","D","E","F","G"], "range": [[1,0],[1,0],[1,0],[5,4],[5,4],[1,0],[1,0]]},
      "legend": {
        "title": null, "orient": "none", "legendX": 1023, "legendY": 307, "padding": 0,
        "symbolType": "stroke", "symbolSize": 676, "symbolStrokeWidth": 2, "rowPadding": -6.7,
        "labelFontSize": 9.5, "labelColor": "#222222", "labelOffset": 1, "labelLimit": 400,
        "labelExpr": "datum.label == 'A' ? 'Suspect EVD cases remaining in the community' : datum.label == 'B' ? 'Inpatients at Ebola Holding Units' : datum.label == 'C' ? 'Inpatients at Ebola Treatment Centres' : datum.label == 'D' ? 'Ebola Holding Unit Beds free for referrals' : datum.label == 'E' ? 'Ebola Treatment Centre Beds free for referrals' : datum.label == 'F' ? 'EVD positive patients awaiting transfer' : 'EVD positive patients transferred'"
      }
    },
    "strokeWidth": {
      "field": "s", "type": "nominal",
      "scale": {"domain": ["A","B","C","D","E","F","G"], "range": [1.5,1.5,1.5,2,2,1.5,2]},
      "legend": null
    }
  }
}
